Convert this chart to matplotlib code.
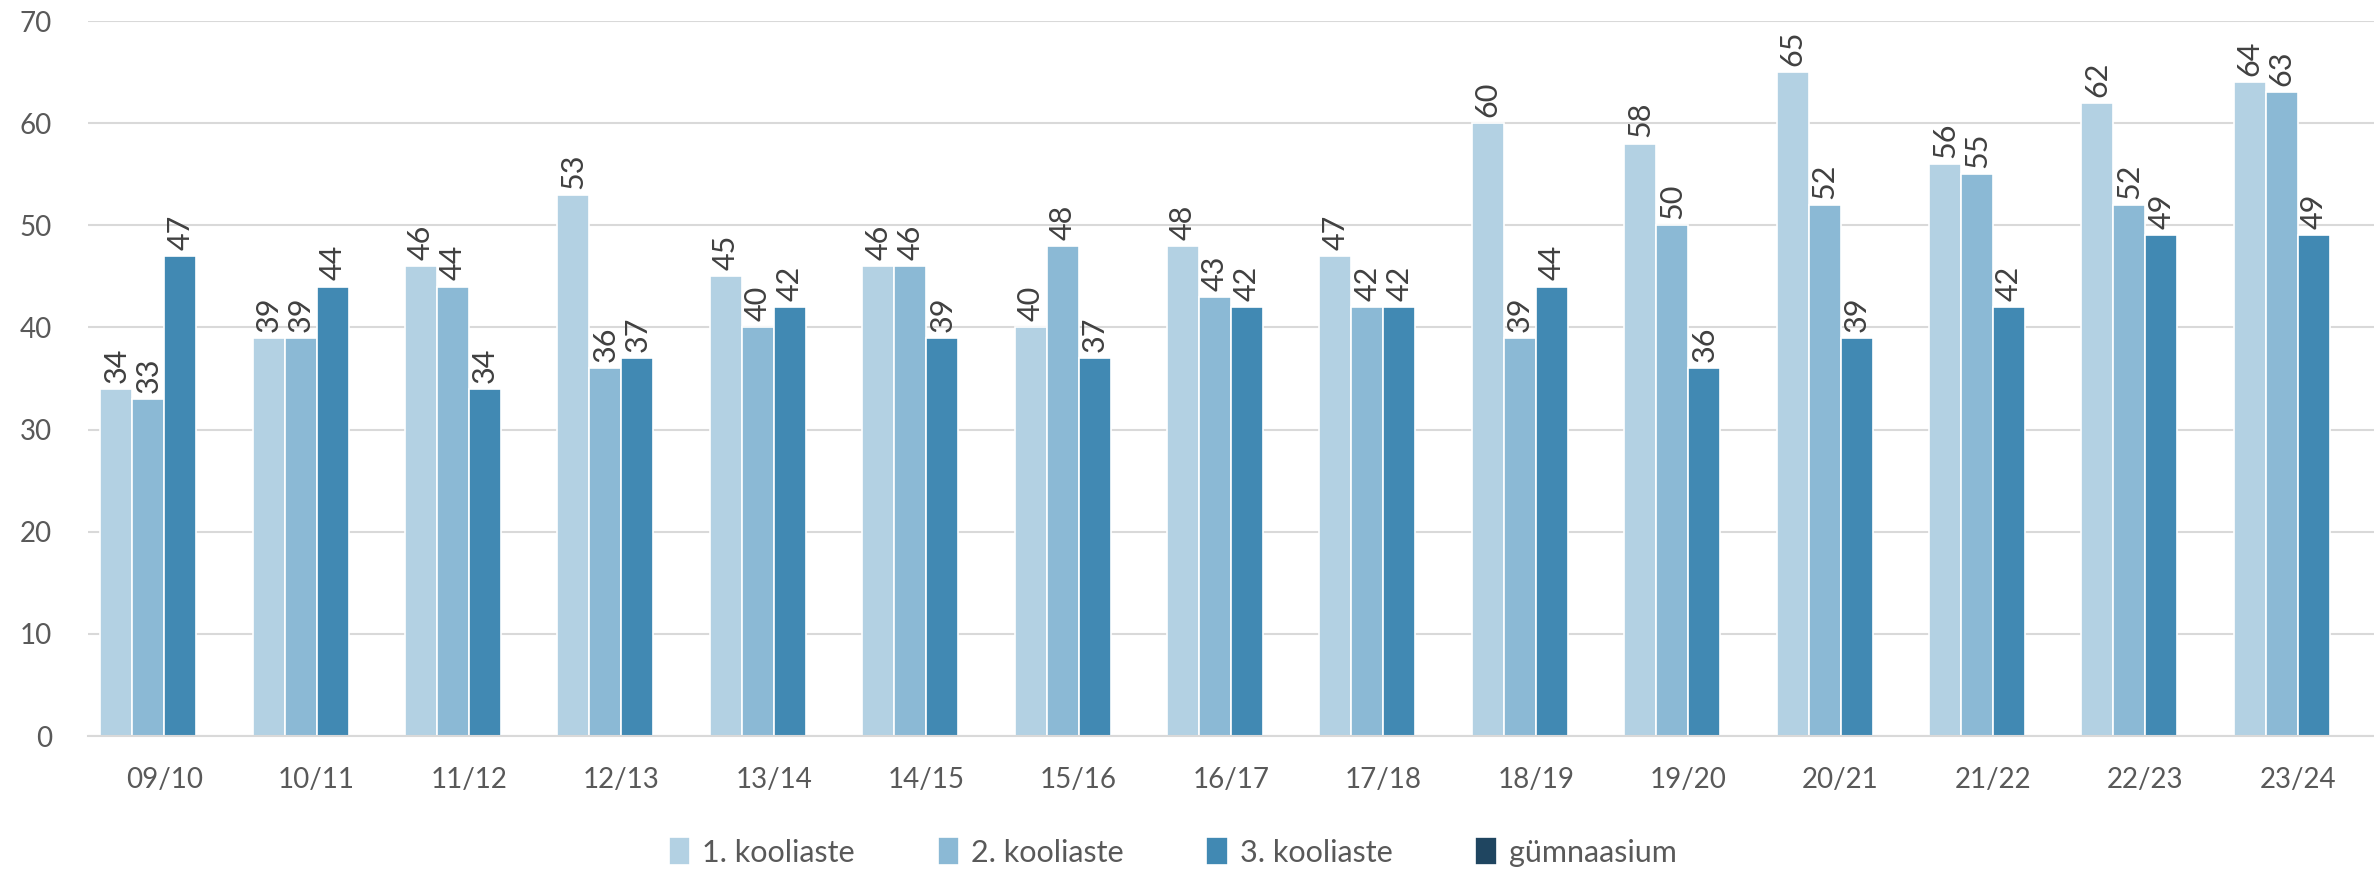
import numpy as np
import matplotlib
matplotlib.use("Agg")
import matplotlib.pyplot as plt

plt.rcParams['font.family'] = ['Lato', 'DejaVu Sans']

aastad = ["09/10", "10/11", "11/12", "12/13", "13/14", "14/15", "15/16", "16/17",
          "17/18", "18/19", "19/20", "20/21", "21/22", "22/23", "23/24"]
kooliaste1 = [34, 39, 46, 53, 45, 46, 40, 48, 47, 60, 58, 65, 56, 62, 64]
kooliaste2 = [33, 39, 44, 36, 40, 46, 48, 43, 42, 39, 50, 52, 55, 52, 63]
kooliaste3 = [47, 44, 34, 37, 42, 39, 37, 42, 42, 44, 36, 39, 42, 49, 49]
gymnaasium = [np.nan] * 15

seeriad = ["1. kooliaste", "2. kooliaste", "3. kooliaste", "gümnaasium"]
andmed = [kooliaste1, kooliaste2, kooliaste3, gymnaasium]
varvid = ["#b3d1e3", "#8bb9d5", "#4189b3", "#1f4560"]

fig = plt.figure(figsize=(23.74, 8.72), dpi=100)
ax = fig.add_axes([88 / 2374, 1 - 736 / 872, (2374 - 88) / 2374, (736 - 21) / 872])

x = np.arange(len(aastad))
w = 0.21
for i, (nimi, vals, c) in enumerate(zip(seeriad, andmed, varvid)):
    pos = x + (i - 1.5) * w
    ax.bar(pos, vals, w, color=c, edgecolor="white", linewidth=1.2, label=nimi, zorder=2)
    for p, v in zip(pos, vals):
        if np.isnan(v):
            continue
        ax.text(p, v + 0.6, str(v), rotation=90, ha="center", va="bottom",
                fontsize=22, color="#404040", clip_on=False)

ax.set_xlim(-0.5, len(aastad) - 0.5)
ax.set_ylim(0, 70)
ax.set_yticks(range(0, 71, 10))
ax.set_xticks(x)
ax.set_xticklabels(aastad)
ax.tick_params(axis="both", length=0, labelsize=20, labelcolor="#595959")
ax.tick_params(axis="x", pad=22)
ax.tick_params(axis="y", pad=26)
ax.grid(axis="y", color="#d9d9d9", linewidth=1.5, zorder=0)
for s in ["top", "right", "left"]:
    ax.spines[s].set_visible(False)
ax.spines["bottom"].set_color("#d9d9d9")
ax.spines["bottom"].set_linewidth(1.5)

fig.legend(loc="center", bbox_to_anchor=(0.494, 1 - 852 / 872), ncol=4,
           frameon=False, fontsize=22, labelcolor="#595959",
           handlelength=0.7, handleheight=1.0, handletextpad=0.4, columnspacing=2.7)

fig.savefig("out.png", dpi=100)
